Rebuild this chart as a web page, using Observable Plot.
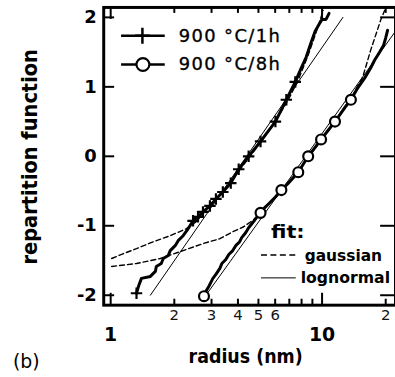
<!DOCTYPE html>
<html><head><meta charset="utf-8">
<script src="https://cdn.jsdelivr.net/npm/d3@7"></script>
<script src="https://cdn.jsdelivr.net/npm/@observablehq/plot@0.6"></script>
<style>
html,body{margin:0;padding:0;background:#fff;}
#chart{width:395px;height:377px;overflow:hidden;position:relative;}
</style></head><body><div id="chart"></div>
<script>
// 900°C/1h measured distribution (radius nm, repartition function)
const r1h = [1.325,1.354,1.398,1.541,1.627,1.644,1.735,1.774,1.872,1.913,2.019,2.086,2.202,2.324,2.453,2.589,2.733,2.948,3.147,3.393,3.700,4.033,4.494,5.116,6.016,6.776,7.468,7.967,8.413,8.880,9.272,9.681,10.00,10.44,10.79];
const y1h = [-1.971,-1.871,-1.757,-1.729,-1.657,-1.586,-1.543,-1.471,-1.429,-1.357,-1.286,-1.214,-1.143,-1.043,-0.929,-0.871,-0.800,-0.714,-0.614,-0.514,-0.386,-0.186,0,0.214,0.500,0.814,1.071,1.271,1.429,1.643,1.800,1.900,1.971,1.971,2.057];
const marks1h = [0,14,15,16,17,18,19,20,21,22,23,24,25,26];
// 900°C/8h
const r8h = [2.763,2.823,2.916,3.045,3.146,3.285,3.357,3.504,3.620,3.780,3.905,4.077,4.167,4.350,4.494,4.693,4.847,5.116,5.342,5.579,6.016,6.420,6.924,7.717,8.597,9.272,9.892,10.67,11.51,12.82,13.69,14.76,15.92,16.98,17.74,18.72,19.55,19.98,20.41];
const y8h = [-2.014,-1.943,-1.871,-1.757,-1.700,-1.614,-1.543,-1.486,-1.414,-1.357,-1.286,-1.229,-1.171,-1.100,-1.029,-0.957,-0.900,-0.814,-0.743,-0.686,-0.586,-0.486,-0.386,-0.229,0,0.129,0.243,0.371,0.500,0.700,0.814,0.986,1.129,1.271,1.386,1.500,1.600,1.700,1.814];
const marks8h = [0,17,21,23,24,26,28,30];
// gaussian fits
const rGauss1h = [1.011,1.151,1.325,1.592,1.913,2.275,2.534,2.916,3.429,4.033,4.642,5.284,6.081,6.924,7.717,8.597,9.272,9.786,10.11];
const yGauss1h = [-1.471,-1.400,-1.329,-1.229,-1.143,-1.043,-0.943,-0.729,-0.486,-0.214,0.029,0.257,0.529,0.814,1.100,1.457,1.743,1.957,2.100];
const rGauss8h = [1.011,1.325,1.717,2.202,2.733,3.285,3.780,4.257,4.744,5.284,6.215,7.717,9.577,11.89,13.98,15.58,16.98,18.92,19.76];
const yGauss8h = [-1.586,-1.543,-1.471,-1.357,-1.257,-1.186,-1.086,-1.014,-0.914,-0.757,-0.543,-0.214,0.171,0.571,0.886,1.143,1.529,1.957,2.100];
// lognormal fits
const rLogn1h = [1.541,12.55];
const yLogn1h = [-2,2];
const rLogn8h = [2.822,24.8];
const yLogn8h = [-2,2];
// axes
const xMajorTicks = [1,10];
const xMinorTicks = [2,3,4,5,6,7,8,9,20];
const xSmallLabels = [2,3,4,5,6,20];
const xBigLabels = [1,10];
const yTicks = [-2,-1,0,1,2];

const pts = (rs, ys) => rs.map((r, i) => ({r, y: ys[i], i}));
const d1h = pts(r1h, y1h), d8h = pts(r8h, y8h);
const g1h = pts(rGauss1h, yGauss1h), g8h = pts(rGauss8h, yGauss8h);
const l1h = pts(rLogn1h, yLogn1h), l8h = pts(rLogn8h, yLogn8h);

const W = 398, H = 377, mL = 104, mT = 7, mB = 70;
const plotH = H - mT - mB, plotW = W - mL;

const chart = Plot.plot({
  width: W, height: H,
  marginLeft: mL, marginRight: 0, marginTop: mT, marginBottom: mB,
  x: {type: "log", domain: [0.927, 22.25], axis: null},
  y: {domain: [-2.143, 2.143], axis: null},
  style: {fontFamily: "DejaVu Sans", background: "white", overflow: "visible"},
  marks: [
    Plot.line(g1h, {x: "r", y: "y", stroke: "black", strokeWidth: 1.4, strokeDasharray: "5,3", clip: true}),
    Plot.line(g8h, {x: "r", y: "y", stroke: "black", strokeWidth: 1.4, strokeDasharray: "5,3", clip: true}),
    Plot.line(l1h, {x: "r", y: "y", stroke: "black", strokeWidth: 1, clip: true}),
    Plot.line(l8h, {x: "r", y: "y", stroke: "black", strokeWidth: 1, clip: true}),
    Plot.line(d1h, {x: "r", y: "y", stroke: "black", strokeWidth: 3, strokeLinejoin: "round", clip: true}),
    Plot.line(d8h, {x: "r", y: "y", stroke: "black", strokeWidth: 3, strokeLinejoin: "round", clip: true}),
    Plot.dot(d1h.filter(d => marks1h.includes(d.i)), {x: "r", y: "y", symbol: "plus", r: 3.8, stroke: "black", strokeWidth: 2.2}),
    Plot.dot(d8h.filter(d => marks8h.includes(d.i)), {x: "r", y: "y", symbol: "circle", r: 5, fill: "white", stroke: "black", strokeWidth: 2.2}),
    // inward ticks
    Plot.ruleX(xMajorTicks, {x: d => d, insetTop: plotH - 12, strokeWidth: 2}),
    Plot.ruleX(xMajorTicks, {x: d => d, insetBottom: plotH - 12, strokeWidth: 2}),
    Plot.ruleX(xMinorTicks, {x: d => d, insetTop: plotH - 6, strokeWidth: 2}),
    Plot.ruleX(xMinorTicks, {x: d => d, insetBottom: plotH - 6, strokeWidth: 2}),
    Plot.ruleY(yTicks, {y: d => d, insetRight: plotW - 11, strokeWidth: 2}),
    Plot.ruleY(yTicks, {y: d => d, insetLeft: plotW - 15, strokeWidth: 2}),
    Plot.frame({stroke: "black", strokeWidth: 3}),
    // tick labels
    Plot.text(xSmallLabels, {x: d => d, text: d => String(d).charAt(0), frameAnchor: "bottom", dy: 15, fontSize: 15, fill: "#111"}),
    Plot.text(xBigLabels, {x: d => d, text: d => String(d), frameAnchor: "bottom", dy: 36, fontSize: 19, fontWeight: "bold"}),
    Plot.text(yTicks, {y: d => d, text: d => String(d), frameAnchor: "left", textAnchor: "end", dx: -7, fontSize: 18, fontWeight: "bold"})
  ]
});

const svg = d3.select(chart);
// axis titles
svg.append("text").attr("transform", "translate(37,158) rotate(-90)")
  .attr("text-anchor", "middle").attr("font-family", "DejaVu Sans").attr("font-weight", "bold")
  .attr("font-size", 22).attr("textLength", 217).attr("lengthAdjust", "spacingAndGlyphs")
  .text("repartition function");
svg.append("text").attr("x", 190).attr("y", 366).attr("text-anchor", "start")
  .attr("font-family", "DejaVu Sans").attr("font-weight", "bold")
  .attr("font-size", 20).attr("textLength", 115).attr("lengthAdjust", "spacingAndGlyphs")
  .text("radius (nm)");
svg.append("text").attr("x", 13).attr("y", 371).attr("text-anchor", "start")
  .attr("font-family", "DejaVu Sans").attr("font-size", 19).text("(b)");

// series legend
const leg = svg.append("g").attr("text-anchor", "start");
leg.append("line").attr("x1", 122).attr("x2", 166).attr("y1", 36).attr("y2", 36).attr("stroke", "black").attr("stroke-width", 2.5);
leg.append("path").attr("d", "M136,36H151M143.5,28V44").attr("stroke", "black").attr("stroke-width", 2.5);
leg.append("text").attr("x", 180).attr("y", 42).attr("font-family", "DejaVu Sans").attr("font-size", 18)
  .attr("stroke", "black").attr("stroke-width", 0.35)
  .attr("textLength", 102).attr("lengthAdjust", "spacing").text("900 °C/1h");
leg.append("line").attr("x1", 122).attr("x2", 166).attr("y1", 65).attr("y2", 65).attr("stroke", "black").attr("stroke-width", 2.5);
leg.append("circle").attr("cx", 144).attr("cy", 65).attr("r", 6.5).attr("fill", "white").attr("stroke", "black").attr("stroke-width", 2.2);
leg.append("text").attr("x", 180).attr("y", 71).attr("font-family", "DejaVu Sans").attr("font-size", 18)
  .attr("stroke", "black").attr("stroke-width", 0.35)
  .attr("textLength", 102).attr("lengthAdjust", "spacing").text("900 °C/8h");

// fit legend
const fl = svg.append("g").attr("font-family", "DejaVu Sans").attr("font-weight", "bold").attr("text-anchor", "start");
fl.append("text").attr("x", 273).attr("y", 240).attr("font-size", 18).attr("textLength", 34).attr("lengthAdjust", "spacingAndGlyphs").text("fit:");
fl.append("line").attr("x1", 263).attr("x2", 300).attr("y1", 257).attr("y2", 257).attr("stroke", "black").attr("stroke-width", 1.4).attr("stroke-dasharray", "6,3.5");
fl.append("text").attr("x", 307).attr("y", 263).attr("font-size", 16).attr("textLength", 78).attr("lengthAdjust", "spacingAndGlyphs").text("gaussian");
fl.append("line").attr("x1", 263).attr("x2", 298).attr("y1", 280).attr("y2", 280).attr("stroke", "black").attr("stroke-width", 1);
fl.append("text").attr("x", 303).attr("y", 285).attr("font-size", 16).attr("textLength", 90).attr("lengthAdjust", "spacingAndGlyphs").text("lognormal");

document.getElementById("chart").appendChild(chart);
</script></body></html>
